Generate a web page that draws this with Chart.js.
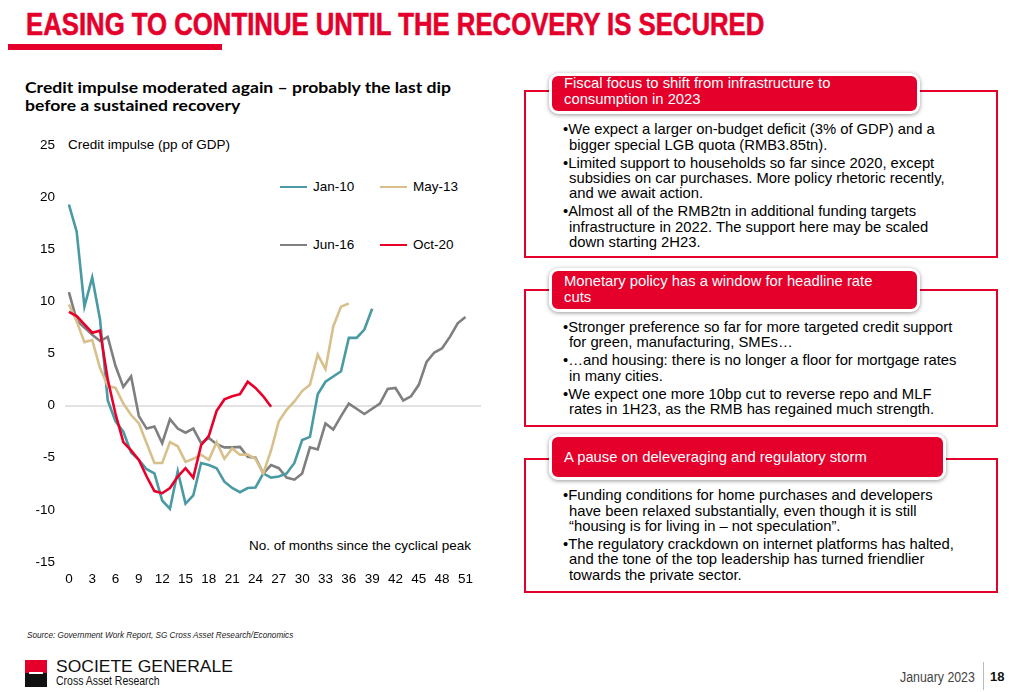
<!DOCTYPE html>
<html><head><meta charset="utf-8">
<script src="https://cdn.jsdelivr.net/npm/chart.js@4.4.1/dist/chart.umd.min.js"></script>
<style>
body{margin:0;width:1013px;height:692px;position:relative;background:#fff;font-family:"Liberation Sans",Arial,sans-serif;overflow:hidden;color:#000}
.abs{position:absolute;white-space:nowrap}
.fit{display:inline-block;transform-origin:left top}
#title{left:26px;top:9px;font-family:"Liberation Sans Narrow","Liberation Sans",sans-serif;font-weight:bold;font-size:31px;line-height:31px;color:#E4002B;-webkit-text-stroke:0.6px #E4002B}
#bar{left:8px;top:44px;width:214px;height:6px;background:#E4002B}
#sub{left:25px;top:78px;font-family:Lato,"Liberation Sans",sans-serif;font-weight:bold;font-size:16px;line-height:18px}
.lbl{font-size:13.5px;line-height:16px}
.box{position:absolute;left:524px;width:474px;border:2px solid #E4002B;box-sizing:border-box}
.tab{position:absolute;left:549px;background:#E4002B;border:3px solid #fff;border-radius:9px;box-shadow:0 1px 4px rgba(0,0,0,0.4);color:#fff;font-size:14.8px;line-height:15.5px;padding-left:12px;box-sizing:content-box;white-space:nowrap}
.body{position:absolute;left:563px;font-size:14.8px;line-height:15.3px;white-space:nowrap}
.body div{padding-left:6px;text-indent:-6px}
.body div+div{margin-top:2.7px}
#src{left:27px;top:630px;font-family:"Liberation Sans Narrow","Liberation Sans",sans-serif;font-style:italic;font-size:9px;line-height:11px;color:#222}
</style></head>
<body>
<div class="abs" id="title"><span class="fit" data-w="738">EASING TO CONTINUE UNTIL THE RECOVERY IS SECURED</span></div>
<div class="abs" id="bar"></div>
<div class="abs" id="sub"><span class="fit" data-w="426" id="sub1">Credit impulse moderated again – probably the last dip</span><br><span class="fit" id="sub2" data-same="sub1">before a sustained recovery</span></div>

<div class="abs lbl" style="left:68px;top:137px">Credit impulse (pp of GDP)</div>
<div class="abs lbl" style="right:542px;top:538px">No. of months since the cyclical peak</div>
<div id="legend"></div>

<div style="position:absolute;left:0;top:127px;width:490px;height:473px"><canvas id="c" width="490" height="473" style="width:490px;height:473px"></canvas></div>

<div class="box" style="top:90px;height:168px"></div>
<div class="tab" style="top:73px;width:353px;height:35px">Fiscal focus to shift from infrastructure to<br>consumption in 2023</div>
<div class="body" style="top:122.4px">
<div>•We expect a larger on-budget deficit (3% of GDP) and a<br>bigger special LGB quota (RMB3.85tn).</div>
<div>•Limited support to households so far since 2020, except<br>subsidies on car purchases. More policy rhetoric recently,<br>and we await action.</div>
<div>•Almost all of the RMB2tn in additional funding targets<br>infrastructure in 2022. The support here may be scaled<br>down starting 2H23.</div>
</div>

<div class="box" style="top:289px;height:138px"></div>
<div class="tab" style="top:268px;width:353px;height:35px;padding-top:3px">Monetary policy has a window for headline rate<br>cuts</div>
<div class="body" style="top:320px">
<div>•Stronger preference so far for more targeted credit support<br>for green, manufacturing, SMEs…</div>
<div>•…and housing: there is no longer a floor for mortgage rates<br>in many cities.</div>
<div>•We expect one more 10bp cut to reverse repo and MLF<br>rates in 1H23, as the RMB has regained much strength.</div>
</div>

<div class="box" style="top:458px;height:135px"></div>
<div class="tab" style="top:434px;width:379px;height:40px;line-height:40px">A pause on deleveraging and regulatory storm</div>
<div class="body" style="top:488.4px">
<div>•Funding conditions for home purchases and developers<br>have been relaxed substantially, even though it is still<br>“housing is for living in – not speculation”.</div>
<div>•The regulatory crackdown on internet platforms has halted,<br>and the tone of the top leadership has turned friendlier<br>towards the private sector.</div>
</div>

<div class="abs" id="src"><span class="fit" data-w="266">Source: Government Work Report, SG Cross Asset Research/Economics</span></div>

<div class="abs" style="left:25px;top:660px;width:22px;height:13px;background:#E4002B"></div>
<div class="abs" style="left:25px;top:673px;width:22px;height:14px;background:#111"></div>
<div class="abs" style="left:29px;top:672px;width:14px;height:2px;background:#fff"></div>
<div class="abs" style="left:56px;top:658px;font-size:17px;line-height:18px;color:#111"><span class="fit" data-w="177">SOCIETE GENERALE</span></div>
<div class="abs" style="left:56px;top:674px;font-family:'Liberation Sans Narrow','Liberation Sans',sans-serif;font-size:13px;line-height:14px;color:#111"><span class="fit" data-w="104">Cross Asset Research</span></div>
<div class="abs" style="left:900px;top:669px;font-family:'Liberation Sans Narrow','Liberation Sans',sans-serif;font-size:14px;line-height:16px;color:#444"><span class="fit" data-w="75">January 2023</span></div>
<div class="abs" style="left:983px;top:662px;width:1px;height:28px;background:#bbb"></div>
<div class="abs" style="left:990px;top:669px;font-weight:bold;font-size:13px;line-height:16px;color:#111">18</div>

<script>
// ---- data ----
const months = [0,1,2,3,4,5,6,7,8,9,10,11,12,13,14,15,16,17,18,19,20,21,22,23,24,25,26,27,28,29,30,31,32,33,34,35,36,37,38,39,40,41,42,43,44,45,46,47,48,49,50,51];
const xTicks = [0,3,6,9,12,15,18,21,24,27,30,33,36,39,42,45,48,51];
const seriesNames = ["Jan-10","May-13","Jun-16","Oct-20"];
const jan10 = [19.3,16.7,9.5,12.3,8.3,0.5,-1.5,-2.5,-4.5,-5.2,-6.1,-6.5,-9.1,-9.9,-6.3,-9.4,-8.6,-5.5,-5.7,-6.0,-7.3,-7.9,-8.3,-7.9,-7.85,-6.5,-6.9,-6.8,-6.5,-5.5,-3.3,-3.0,1.1,2.3,2.8,3.3,6.5,6.5,7.3,9.3];
const may13 = [9.7,8.1,6.1,6.3,3.6,1.9,1.7,0.2,-0.9,-1.7,-3.6,-5.5,-5.5,-3.5,-3.9,-5.4,-5.1,-4.7,-5.2,-3.5,-5.1,-4.1,-4.7,-4.7,-5.1,-6.5,-4.3,-1.5,-0.4,0.4,1.4,2.0,4.9,3.5,7.6,9.5,9.8];
const jun16 = [10.9,8.2,7.5,6.8,6.2,6.6,3.8,1.8,2.8,-1.0,-2.2,-2.0,-3.6,-1.3,-2.2,-2.6,-2.2,-3.6,-3.1,-3.7,-4.0,-4.0,-3.95,-4.9,-5.0,-6.5,-5.7,-6.0,-6.9,-7.1,-6.5,-4.0,-4.2,-1.7,-2.3,-1.0,0.2,-0.3,-0.8,-0.3,0.2,1.6,1.7,0.5,0.9,2.0,4.2,5.1,5.5,6.6,7.9,8.5];
const oct20 = [9.0,8.6,7.8,7.0,7.2,2.5,-0.8,-3.5,-4.3,-5.2,-6.8,-8.2,-8.4,-7.9,-6.8,-6.0,-6.9,-3.8,-2.9,-0.5,0.6,0.9,1.1,2.3,1.7,0.9,-0.1];
const yTicksMin = -15, yTicksMax = 25, yStep = 5;

const colors = ["#4A9AA3","#D8C08C","#7F7F7F","#E8002A"];
const allSeries = [jan10, may13, jun16, oct20];
const toPts = arr => arr.map((v,i)=>({x:months[i], y:v}));

const datasets = allSeries.map((s,i)=>({
  label: seriesNames[i], data: toPts(s), borderColor: colors[i], backgroundColor: colors[i],
  borderWidth: 2.6, pointRadius: 0, tension: 0, fill: false
}));
datasets.forEach((d,i)=>{ d.order = [3,2,4,1][i]; });

const tickFont = {family:"'Liberation Sans', Arial, sans-serif", size:13.5};
new Chart(document.getElementById('c'), {
  type: 'line',
  data: { datasets },
  options: {
    responsive:false, animation:false, devicePixelRatio: window.devicePixelRatio||1,
    layout:{padding:{top:0,right:9,left:0,bottom:0}},
    plugins:{legend:{display:false}, tooltip:{enabled:false}},
    scales:{
      x:{type:'linear', min:-0.5, max:53,
        afterBuildTicks: s => { s.ticks = xTicks.map(v=>({value:v})); },
        afterFit: s => { s.height = 38; },
        grid:{display:false, drawTicks:false}, border:{display:false},
        ticks:{font:tickFont, color:'#000', padding:9, maxRotation:0, autoSkip:false}
      },
      y:{min:yTicksMin, max:yTicksMax,
        afterFit: s => { s.width = 65; },
        grid:{drawTicks:false, lineWidth:2, color: c => c.tick && c.tick.value===0 ? '#e2e2e2' : 'rgba(0,0,0,0)'},
        border:{display:false},
        ticks:{stepSize:yStep, font:tickFont, color:'#000', padding:10}
      }
    }
  }
});

const legPos = [[280,187],[380,187],[280,245],[380,245]];
const leg = document.getElementById('legend');
datasets.forEach((d,i)=>{
  const [x,y] = legPos[i];
  const ln = document.createElement('div'); ln.className='abs';
  ln.style.cssText = `left:${x}px;top:${y-1.3}px;width:27px;height:2.6px;background:${d.borderColor}`;
  const t = document.createElement('div'); t.className='abs lbl';
  t.style.cssText = `left:${x+33}px;top:${y-8}px`;
  t.textContent = d.label;
  leg.appendChild(ln); leg.appendChild(t);
});

document.querySelectorAll('.fit').forEach(el=>{
  if (el.dataset.w) { const k = (+el.dataset.w)/el.offsetWidth; el.style.transform=`scaleX(${k})`; el._k=k; }
});
document.querySelectorAll('.fit[data-same]').forEach(el=>{
  const ref = document.getElementById(el.dataset.same); el.style.transform=`scaleX(${ref._k})`;
});
</script>
</body></html>
